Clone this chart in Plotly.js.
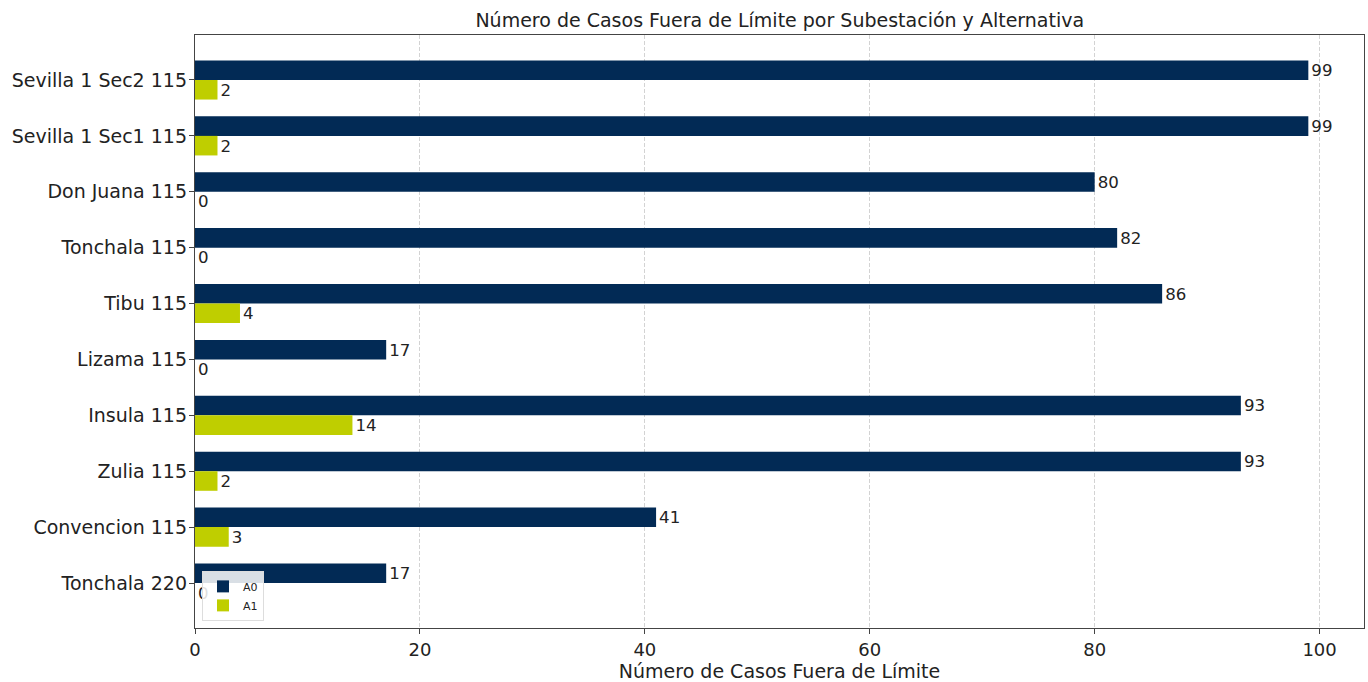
<!DOCTYPE html>
<html>
<head>
<meta charset="utf-8">
<script src="https://cdn.plot.ly/plotly-3.0.1.min.js"></script>
<style>html,body{margin:0;padding:0;background:#fff;}#chart{width:1368px;height:682px;}</style>
</head>
<body>
<div id="chart"></div>
<script>
const categories = ["Tonchala 220","Convencion 115","Zulia 115","Insula 115","Lizama 115","Tibu 115","Tonchala 115","Don Juana 115","Sevilla 1 Sec1 115","Sevilla 1 Sec2 115"];
const a0Values = [17, 41, 93, 93, 17, 86, 82, 80, 99, 99];
const a1Values = [0, 3, 2, 14, 0, 4, 0, 0, 2, 2];
const xTicks = [0, 20, 40, 60, 80, 100];

const idx = categories.map((_, i) => i);
const font = "DejaVu Sans, sans-serif";

const traces = [
  {type:'bar', orientation:'h', name:'A0', y:idx, x:a0Values, width:0.35, offset:0,
   marker:{color:'#022a55'}, text:a0Values.map(String), textposition:'outside',
   textfont:{size:17, color:'#222', family:font}, cliponaxis:false, hoverinfo:'x'},
  {type:'bar', orientation:'h', name:'A1', y:idx, x:a1Values, width:0.35, offset:-0.35,
   marker:{color:'#bfce00'}, text:a1Values.map(String), textposition:'outside',
   textfont:{size:17, color:'#222', family:font}, cliponaxis:false, hoverinfo:'x'}
];

const layout = {
  width:1368, height:682,
  margin:{l:195, r:4, t:35, b:54},
  paper_bgcolor:'#fff', plot_bgcolor:'#fff',
  barmode:'overlay',
  font:{family:font, color:'#222'},
  title:{text:'Número de Casos Fuera de Límite por Subestación y Alternativa', x:0.57, xanchor:'center', y:0.97, yanchor:'middle', font:{size:19, family:font, color:'#222'}},
  xaxis:{range:[0, 103.95], tickvals:xTicks, ticks:'outside', ticklen:5, tickcolor:'#444',
    showgrid:true, gridcolor:'#d3d3d3', griddash:'4px,2px', gridwidth:1,
    showline:true, linecolor:'#444', linewidth:1.2, mirror:true, zeroline:false,
    tickfont:{size:18, family:font, color:'#222'},
    title:{text:'Número de Casos Fuera de Límite', font:{size:19, family:font, color:'#222'}, standoff:6}},
  yaxis:{range:[-0.805, 9.805], tickvals:idx, ticktext:categories, ticks:'outside', ticklen:5, tickcolor:'#444',
    showgrid:false, showline:true, linecolor:'#444', linewidth:1.2, mirror:true, zeroline:false,
    ticklabelstandoff:-2,
    tickfont:{size:19, family:font, color:'#222'}},
  legend:{x:0.006, y:0.012, xanchor:'left', yanchor:'bottom', bgcolor:'rgba(255,255,255,0.85)',
    bordercolor:'#ddd', borderwidth:1, font:{size:11, family:font}, traceorder:'normal',
    itemwidth:30, tracegroupgap:0},
  showlegend:true
};

Plotly.newPlot('chart', traces, layout, {displayModeBar:false, staticPlot:true});
</script>
</body>
</html>
